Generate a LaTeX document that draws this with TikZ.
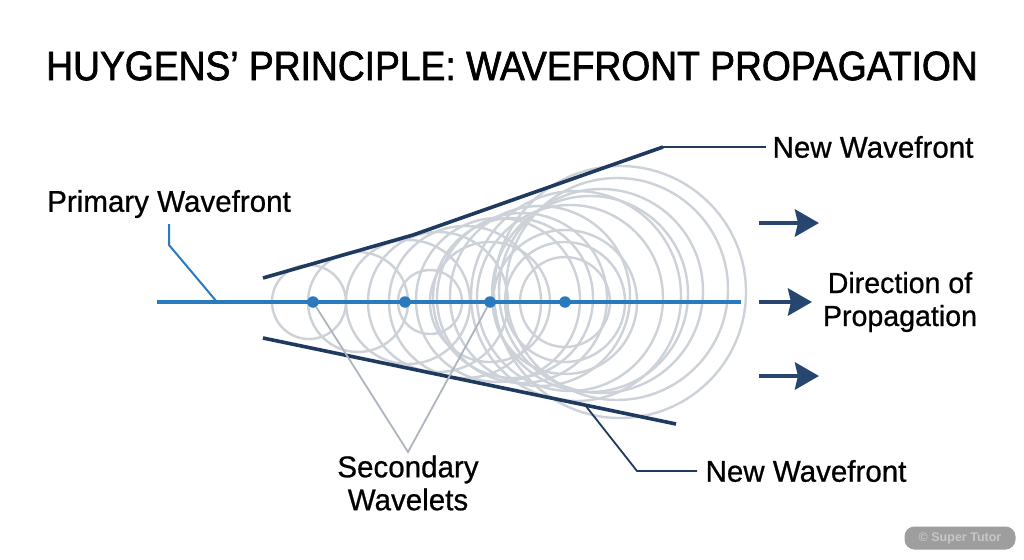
\documentclass[tikz,border=0pt]{standalone}
\usepackage{fontspec}
\setmainfont{Liberation Sans}
\newfontfamily\titlefont[FakeBold=1.6,FakeStretch=0.908]{Liberation Sans}
\newfontfamily\labelfont[FakeBold=0.7,FakeStretch=0.985]{Liberation Sans}
\usetikzlibrary{arrows.meta}
\definecolor{navy}{HTML}{1F3A5F}
\definecolor{arrowblue}{HTML}{27466F}
\definecolor{wblue}{HTML}{2A7ABF}
\definecolor{wave}{HTML}{CDD1D8}
\definecolor{lead}{HTML}{AEB5C0}
\tikzset{
 x=1pt,y=-1pt,
 wavelet/.style={draw=wave,line width=2.4pt},
 front/.style={draw=navy,line width=3.6pt},
 thinlead/.style={draw=navy,line width=1.8pt},
 primary/.style={draw=wblue,line width=3.4pt},
 greylead/.style={draw=lead,line width=1.8pt},
 source/.style={circle,fill=wblue,minimum size=11.5pt,inner sep=0pt},
 dirarrow/.style={draw=arrowblue,line width=4.6pt,-{Stealth[length=24pt,width=27pt,inset=3pt]}},
 label/.style={text=black,font=\labelfont\fontsize{30}{33}\selectfont,inner sep=0pt,align=center},
}
\begin{document}
\begin{tikzpicture}
\useasboundingbox (0,0) rectangle (1024,559);
\fill[white] (0,0) rectangle (1024,559);
\foreach \cx/\cy/\r in {309/302/37,358/302/50,408/302/62,438/302/70,430/302/32,465/302/76,498/300/82,522/298/85,
 490/302/60,513/298/80,540/296/90,565/302/72,570/298/93,576/296/105,590/294/98,601/291/102,617/289/111,620/292/126,
 565/302/45,565/302/60}
  \draw[wavelet] (\cx,\cy) circle[radius=\r];
\coordinate (pstart) at (157,302);
\coordinate (pend) at (741,302);
\draw[primary] (pstart) -- (pend);
\node[source] (s1) at (313,302) {};
\node[source] (s2) at (405,302) {};
\node[source] (s3) at (490,302) {};
\node[source] (s4) at (565,302) {};
\coordinate (t0) at (263,278);
\coordinate (t1) at (413,235);
\coordinate (t2) at (663,147);
\coordinate (b0) at (263,338);
\coordinate (b1) at (585,405);
\coordinate (b2) at (676,424);
\draw[front,line join=round] (t0) -- (t1) -- (t2);
\draw[front] (b0) -- (b2);
\node[label,font=\titlefont\fontsize{41}{44}\selectfont] (title) at (512,66) {HUYGENS’ PRINCIPLE: WAVEFRONT PROPAGATION};
\node[label] (primlab) at (169,204) {Primary Wavefront};
\node[label] (nw1) at (873,147) {New Wavefront};
\node[label] (nw2) at (806,471) {New Wavefront};
\node[label,font=\labelfont\fontsize{29}{33}\selectfont] (dir) at (900,302) {Direction of\\Propagation};
\node[label] (sec) at (408,483) {Secondary\\Wavelets};
\coordinate (pk) at (169,245);
\coordinate (pe) at (217,302);
\draw[draw=wblue,line width=2pt] (169,224) -- (pk) -- (pe);
\draw[thinlead] (t2) -- (766,147);
\coordinate (k2) at (637,471);
\draw[thinlead] (b1) -- (k2) -- (697,471);
\coordinate (apex) at (408,452);
\draw[greylead] (s1) -- (apex) -- (s3);
\coordinate (a1) at (759,223); \coordinate (a1e) at (819,223);
\coordinate (a2) at (759,302); \coordinate (a2e) at (812,302);
\coordinate (a3) at (759,376); \coordinate (a3e) at (819,376);
\draw[dirarrow] (a1) -- (a1e);
\draw[dirarrow] (a2) -- (a2e);
\draw[dirarrow] (a3) -- (a3e);
\node[fill=black!38,rounded corners=10pt,minimum width=111pt,minimum height=23pt,inner sep=0pt,text=black!22,font=\fontsize{12.5}{14}\selectfont\bfseries] (badge) at (960,538) {© Super Tutor};
\end{tikzpicture}
\end{document}
